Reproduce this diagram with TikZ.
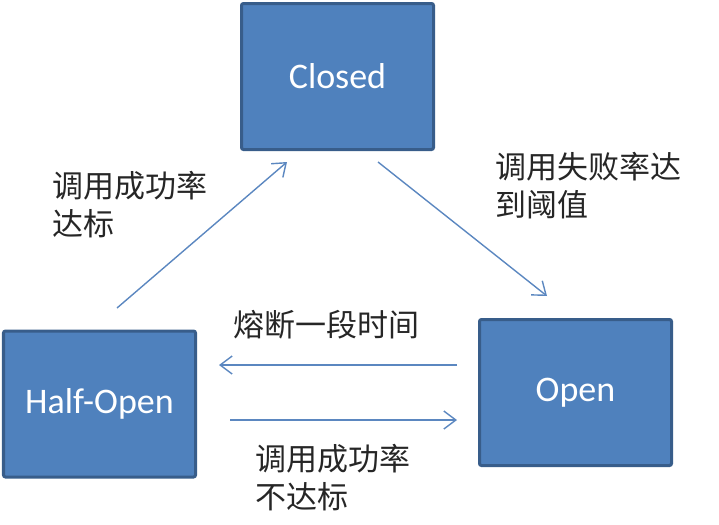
\documentclass[tikz,border=0pt]{standalone}
\usepackage{fontspec}
\setmainfont{Carlito}
\newfontfamily\cjk{Noto Sans CJK SC}
\usetikzlibrary{arrows.meta}
\definecolor{boxfill}{HTML}{4F81BD}
\definecolor{boxline}{HTML}{385D8A}
\definecolor{linkblue}{HTML}{5B87C0}
\definecolor{labelgray}{HTML}{262626}

\begin{document}
\begin{tikzpicture}[x=0.5pt,y=-0.5pt,
  state/.style={draw=boxline,fill=boxfill,line width=1.5pt,rounded corners=1pt,
    minimum width=96pt,minimum height=73pt,text=white,font=\fontsize{18}{20}\selectfont},
  link/.style={linkblue,line width=0.7pt,-{Straight Barb[length=6pt,width=9pt]}},
  lbl/.style={anchor=north west,align=left,inner sep=0pt,text=labelgray,
    font=\cjk\fontsize{15.5}{19}\selectfont}]
\useasboundingbox (0,0) rectangle (719,525);
% the three states
\node[state] (closed) at (337.5,76.5) {Closed};
\node[state] (open) at (575.5,392.5) {Open};
\node[state] (half) at (99.5,404) {Half-Open};
% arrow ends
\coordinate (h2c-a) at (117,308);
\coordinate (h2c-b) at (287,162);
\coordinate (c2o-a) at (378,162);
\coordinate (c2o-b) at (547,296);
\coordinate (o2h-a) at (457,365);
\coordinate (o2h-b) at (219,365);
\coordinate (h2o-a) at (230,420);
\coordinate (h2o-b) at (457,420);
\draw[link] (h2c-a) -- (h2c-b);
\draw[link] (c2o-a) -- (c2o-b);
\draw[link] (o2h-a) -- (o2h-b);
\draw[link] (h2o-a) -- (h2o-b);
% labels
\node[lbl] (l-h2c) at (52,171) {调用成功率\\达标};
\node[lbl] (l-c2o) at (495,152) {调用失败率达\\到阈值};
\node[lbl] (l-o2h) at (233,310) {熔断一段时间};
\node[lbl] (l-h2o) at (255,444) {调用成功率\\不达标};
\end{tikzpicture}
\end{document}
